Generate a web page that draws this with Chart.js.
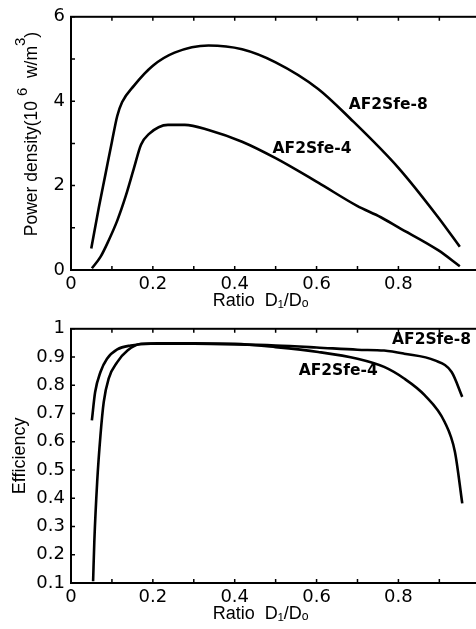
<!DOCTYPE html>
<html>
<head>
<meta charset="utf-8">
<script src="https://cdn.jsdelivr.net/npm/chart.js@4.4.1/dist/chart.umd.min.js"></script>
<style>
html, body { margin: 0; padding: 0; background: #fff; width: 476px; height: 629px; overflow: hidden; }
.panel { position: absolute; left: 0; width: 490px; }
#top { top: 0; height: 312px; }
#bottom { top: 312px; height: 317px; }
</style>
</head>
<body>
<div class="panel" id="top"><canvas id="powerChart" width="490" height="312"></canvas></div>
<div class="panel" id="bottom"><canvas id="effChart" width="490" height="317"></canvas></div>
<script>
'use strict';

// Power density (10^6 W/m^3) against ratio D1/Do
const powerRatio8 = [0.0495, 0.068, 0.084, 0.10, 0.113, 0.125, 0.154, 0.20, 0.253, 0.336, 0.418, 0.50, 0.604, 0.682, 0.80, 0.897, 0.95];
const power8 = [0.51, 1.48, 2.26, 3.04, 3.65, 3.98, 4.37, 4.84, 5.15, 5.32, 5.23, 4.92, 4.29, 3.59, 2.42, 1.25, 0.55];
const powerRatio4 = [0.051, 0.072, 0.092, 0.113, 0.134, 0.154, 0.171, 0.19, 0.237, 0.278, 0.336, 0.418, 0.50, 0.604, 0.699, 0.757, 0.80, 0.897, 0.95];
const power4 = [0.04, 0.31, 0.70, 1.17, 1.76, 2.42, 2.97, 3.22, 3.44, 3.44, 3.32, 3.04, 2.65, 2.07, 1.52, 1.25, 1.01, 0.47, 0.09];

// Efficiency against ratio D1/Do
const effRatio8 = [0.051, 0.059, 0.072, 0.088, 0.113, 0.146, 0.195, 0.30, 0.40, 0.50, 0.60, 0.70, 0.765, 0.814, 0.889, 0.93, 0.956];
const eff8 = [0.676, 0.776, 0.847, 0.894, 0.927, 0.941, 0.947, 0.947, 0.945, 0.941, 0.934, 0.926, 0.923, 0.912, 0.888, 0.847, 0.759];
const effRatio4 = [0.054, 0.057, 0.064, 0.072, 0.080, 0.092, 0.113, 0.138, 0.171, 0.212, 0.30, 0.40, 0.50, 0.604, 0.70, 0.765, 0.814, 0.864, 0.913, 0.938, 0.956];
const eff4 = [0.106, 0.247, 0.459, 0.623, 0.741, 0.824, 0.882, 0.923, 0.947, 0.949, 0.949, 0.947, 0.935, 0.918, 0.894, 0.865, 0.824, 0.765, 0.670, 0.565, 0.382];

// tick labels
const ratioTickLabels = ['0', '0.2', '0.4', '0.6', '0.8', '1'];
const powerTickLabels = ['0', '2', '4', '6'];
const effTickLabels = ['0.1', '0.2', '0.3', '0.4', '0.5', '0.6', '0.7', '0.8', '0.9', '1'];

// curve names, anchored in data units
const powerNames = [
    { text: 'AF2Sfe-8', x: 0.775, y: 3.91 },
    { text: 'AF2Sfe-4', x: 0.589, y: 2.86 }
];
const effNames = [
    { text: 'AF2Sfe-8', x: 0.881, y: 0.959 },
    { text: 'AF2Sfe-4', x: 0.653, y: 0.849 }
];

Chart.defaults.color = '#000';
Chart.defaults.font.family = '"DejaVu Sans"';

const toPoints = (xs, ys) => xs.map((x, i) => ({ x: x, y: ys[i] }));

// pick the label whose number matches the tick value
function labelFor(list, value) {
    const hit = list.find(l => Math.abs(parseFloat(l) - value) < 1e-6);
    return hit === undefined ? '' : hit;
}

// box round the plot and short inward ticks on all four sides
const frameTicks = {
    id: 'frameTicks',
    afterDatasetsDraw(chart) {
        const { ctx, chartArea: a, scales: { x, y } } = chart;
        ctx.save();
        ctx.strokeStyle = '#000';
        ctx.lineWidth = 1.5;
        ctx.beginPath();
        x.ticks.forEach(t => {
            const px = x.getPixelForValue(t.value);
            ctx.moveTo(px, a.bottom); ctx.lineTo(px, a.bottom - 4);
            ctx.moveTo(px, a.top); ctx.lineTo(px, a.top + 4);
        });
        y.ticks.forEach(t => {
            const py = y.getPixelForValue(t.value);
            ctx.moveTo(a.left, py); ctx.lineTo(a.left + 4, py);
            ctx.moveTo(a.right, py); ctx.lineTo(a.right - 4, py);
        });
        ctx.stroke();
        ctx.lineWidth = 2;
        ctx.strokeRect(a.left, a.top, a.right - a.left, a.bottom - a.top);
        ctx.restore();
    }
};

const curveNames = {
    id: 'curveNames',
    afterDatasetsDraw(chart, args, opts) {
        const { ctx, scales: { x, y } } = chart;
        ctx.save();
        ctx.font = 'bold 15.5px "DejaVu Sans"';
        ctx.fillStyle = '#000';
        ctx.textAlign = 'center';
        ctx.textBaseline = 'middle';
        (opts.items || []).forEach(n => {
            ctx.fillText(n.text, x.getPixelForValue(n.x), y.getPixelForValue(n.y));
        });
        ctx.restore();
    }
};

// y title with raised exponents, written bottom to top
const powerTitle = {
    id: 'powerTitle',
    afterDraw(chart) {
        const ctx = chart.ctx;
        const parts = [
            ['Power density(10 ', 0],
            ['6', 10],
            ['  w/m', 0],
            ['3', 12],
            [')', 0]
        ];
        ctx.save();
        ctx.fillStyle = '#000';
        ctx.textBaseline = 'alphabetic';
        const mainFont = '17.5px "Liberation Sans"';
        const supFont = '15px "Liberation Sans"';
        let total = 0;
        parts.forEach(p => {
            ctx.font = p[1] ? supFont : mainFont;
            total += ctx.measureText(p[0]).width;
        });
        ctx.translate(37, 134);
        ctx.rotate(-Math.PI / 2);
        let pos = -total / 2;
        parts.forEach(p => {
            ctx.font = p[1] ? supFont : mainFont;
            ctx.fillText(p[0], pos, -p[1]);
            pos += ctx.measureText(p[0]).width;
        });
        ctx.restore();
    }
};

function createPanel(canvasId, series, yRange, yStep, yLabels, names, opts) {
    const ctx = document.getElementById(canvasId);
    if (!ctx) {
        console.error(`Canvas ${canvasId} not found.`);
        return;
    }

    const datasets = series.map(s => ({
        data: toPoints(s[0], s[1]),
        borderColor: '#000',
        borderWidth: 2.6,
        pointRadius: 0,
        fill: false,
        cubicInterpolationMode: 'monotone'
    }));

    new Chart(ctx, {
        type: 'line',
        data: { datasets: datasets },
        options: {
            responsive: false,
            animation: false,
            layout: { padding: { top: opts.top, right: 8, left: 0, bottom: 0 } },
            plugins: {
                legend: { display: false },
                tooltip: { enabled: false },
                curveNames: { items: names }
            },
            scales: {
                x: {
                    type: 'linear',
                    min: 0,
                    max: 1,
                    grid: { display: false, drawTicks: false },
                    border: { display: false },
                    ticks: {
                        stepSize: 0.1,
                        autoSkip: false,
                        maxRotation: 0,
                        padding: 4,
                        font: { size: 18 },
                        callback: v => labelFor(ratioTickLabels, v)
                    },
                    title: {
                        display: true,
                        text: 'Ratio  D\u2081/D\u2092      ',
                        font: { family: '"Liberation Sans"', size: 18 },
                        padding: { top: 0, bottom: opts.titleBottom }
                    },
                    afterFit: scale => { scale.height = opts.xHeight; }
                },
                y: {
                    min: yRange[0],
                    max: yRange[1],
                    grid: { display: false, drawTicks: false },
                    border: { display: false },
                    ticks: {
                        stepSize: yStep,
                        autoSkip: false,
                        padding: 6,
                        font: { size: 18 },
                        callback: v => labelFor(yLabels, v)
                    },
                    title: {
                        display: !!opts.yTitle,
                        text: opts.yTitle || '',
                        font: { family: '"Liberation Sans"', size: 18 },
                        padding: { top: 9, bottom: 0 }
                    },
                    afterFit: scale => { scale.width = 71; }
                }
            }
        },
        plugins: opts.extra.concat([frameTicks, curveNames])
    });
}

createPanel('powerChart',
    [[powerRatio8, power8], [powerRatio4, power4]],
    [0, 6], 1, powerTickLabels, powerNames,
    { top: 14, xHeight: 42, titleBottom: 0, yTitle: null, extra: [powerTitle] });

createPanel('effChart',
    [[effRatio8, eff8], [effRatio4, eff4]],
    [0.1, 1], 0.1, effTickLabels, effNames,
    { top: 16, xHeight: 46, titleBottom: 4, yTitle: 'Efficiency', extra: [] });
</script>
</body>
</html>
